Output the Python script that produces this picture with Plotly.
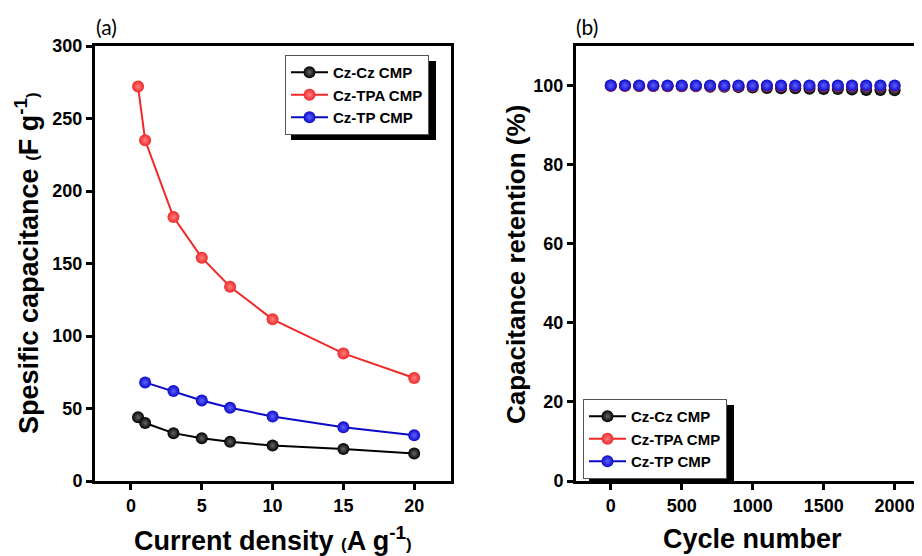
import plotly.graph_objects as go

# ---------------- data ----------------
current_density = [0.5, 1, 3, 5, 7, 10, 15, 20]
cz_cz_cap = [44, 40, 33, 29.5, 27, 24.5, 22, 19]
cz_tpa_cap = [272, 235, 182, 154, 134, 111.5, 88, 71]
tp_density = [1, 3, 5, 7, 10, 15, 20]
cz_tp_cap = [68, 62, 55.5, 50.5, 44.5, 37, 31.5]

cycles = [0, 100, 200, 300, 400, 500, 600, 700, 800, 900, 1000,
          1100, 1200, 1300, 1400, 1500, 1600, 1700, 1800, 1900, 2000]
cz_cz_ret = [100, 100, 99.9, 99.9, 99.8, 99.8, 99.8, 99.7, 99.7, 99.6, 99.5,
             99.4, 99.3, 99.3, 99.2, 99.1, 99.1, 99.0, 98.9, 98.9, 98.8]
cz_tpa_ret = [99.9] * 21
cz_tp_ret = [100.0] * 21

names = ["Cz-Cz CMP", "Cz-TPA CMP", "Cz-TP CMP"]
colors = ["#000000", "#f02828", "#0a0ac8"]
hilite = ["#666666", "#ff8080", "#6060ff"]

# The page places the figure 8px in from the top-left corner, so the figure is
# laid out in screen coordinates shifted by that offset.
OFF = 8
W, H = 922 - OFF, 556 - OFF
FONT = "Liberation Sans"

def px(x):
    return (x - OFF) / W

def py(y):
    return 1 - (y - OFF) / H

fig = go.Figure()

def marker(i):
    return dict(size=12, color=colors[i], line=dict(width=0),
                gradient=dict(type="radial", color=hilite[i]))

# panel (a)
for i, (xs, ys) in enumerate([(current_density, cz_cz_cap),
                               (current_density, cz_tpa_cap),
                               (tp_density, cz_tp_cap)]):
    fig.add_trace(go.Scatter(x=xs, y=ys, name=names[i], mode="lines+markers",
                             line=dict(color=colors[i], width=2),
                             marker=marker(i), xaxis="x", yaxis="y",
                             legend="legend"))

# panel (b): markers only
for i, ys in enumerate([cz_cz_ret, cz_tpa_ret, cz_tp_ret]):
    fig.add_trace(go.Scatter(x=cycles, y=ys, name=names[i], mode="markers",
                             marker=marker(i), xaxis="x2", yaxis="y2",
                             showlegend=False))
# legend entries for panel (b)
for i in range(3):
    fig.add_trace(go.Scatter(x=[None], y=[None], name=names[i], mode="lines+markers",
                             line=dict(color=colors[i], width=2),
                             marker=marker(i), xaxis="x2", yaxis="y2",
                             legend="legend2"))

axis_common = dict(showline=True, linewidth=3, linecolor="black", ticks="outside",
                   ticklen=6, tickwidth=3, tickcolor="black", showgrid=False,
                   zeroline=False, automargin=False,
                   tickfont=dict(family=FONT, size=18, color="black", weight="bold"))

legend_common = dict(xanchor="left", yanchor="top", bgcolor="white",
                     bordercolor="#555", borderwidth=1,
                     font=dict(family=FONT, size=15, color="black", weight="bold"),
                     tracegroupgap=0, itemwidth=37)

fig.update_layout(
    template="none",
    width=W, height=H, margin=dict(l=0, r=0, t=0, b=0, pad=0), autosize=False,
    paper_bgcolor="white", plot_bgcolor="white",
    xaxis=dict(domain=[px(95), px(451)], range=[-2.54, 22.6],
               tickvals=[0, 5, 10, 15, 20], mirror=True, anchor="y", **axis_common),
    yaxis=dict(domain=[py(481), py(46)], range=[0, 300],
               tickvals=[0, 50, 100, 150, 200, 250, 300], mirror=True, anchor="x",
               **axis_common),
    xaxis2=dict(domain=[px(576), 1.0], range=[-245, 2193],
                tickvals=[0, 500, 1000, 1500, 2000], mirror=True, anchor="y2",
                **axis_common),
    yaxis2=dict(domain=[py(481), py(46)], range=[0, 110],
                tickvals=[0, 20, 40, 60, 80, 100], mirror=False, anchor="x2",
                **axis_common),
    legend=dict(x=px(285), y=py(55), **legend_common),
    legend2=dict(x=px(583), y=py(399), **legend_common),
    shapes=[
        dict(type="rect", xref="paper", yref="paper", x0=px(291), x1=px(436),
             y0=py(140), y1=py(61), fillcolor="black", line=dict(width=0), layer="below"),
        dict(type="rect", xref="paper", yref="paper", x0=px(589), x1=px(734),
             y0=py(482), y1=py(405), fillcolor="black", line=dict(width=0), layer="below"),
    ],
    annotations=[
        dict(text="(a)", x=px(94), y=py(26), xref="paper", yref="paper",
             xanchor="left", yanchor="middle", showarrow=False,
             font=dict(family="Lato", size=21, color="black")),
        dict(text="(b)", x=px(574), y=py(26), xref="paper", yref="paper",
             xanchor="left", yanchor="middle", showarrow=False,
             font=dict(family="Lato", size=21, color="black")),
        dict(text="Spesific capacitance <span style='font-size:17px'>(</span>F g<sup>-1</sup><span style='font-size:17px'>)</span>",
             x=px(27), y=py(263), xref="paper", yref="paper", textangle=-90,
             xanchor="center", yanchor="middle", showarrow=False,
             font=dict(family=FONT, size=27, color="black", weight="bold")),
        dict(text="Current density <span style='font-size:17px'>(</span>A g<sup>-1</sup><span style='font-size:17px'>)</span>",
             x=px(273), y=py(539), xref="paper", yref="paper",
             xanchor="center", yanchor="middle", showarrow=False,
             font=dict(family=FONT, size=27, color="black", weight="bold")),
        dict(text="Capacitance retention (%)",
             x=px(516), y=py(265), xref="paper", yref="paper", textangle=-90,
             xanchor="center", yanchor="middle", showarrow=False,
             font=dict(family=FONT, size=26, color="black", weight="bold")),
        dict(text="Cycle number",
             x=px(752), y=py(539), xref="paper", yref="paper",
             xanchor="center", yanchor="middle", showarrow=False,
             font=dict(family=FONT, size=27, color="black", weight="bold")),
    ],
)

fig.write_html("out.html")
